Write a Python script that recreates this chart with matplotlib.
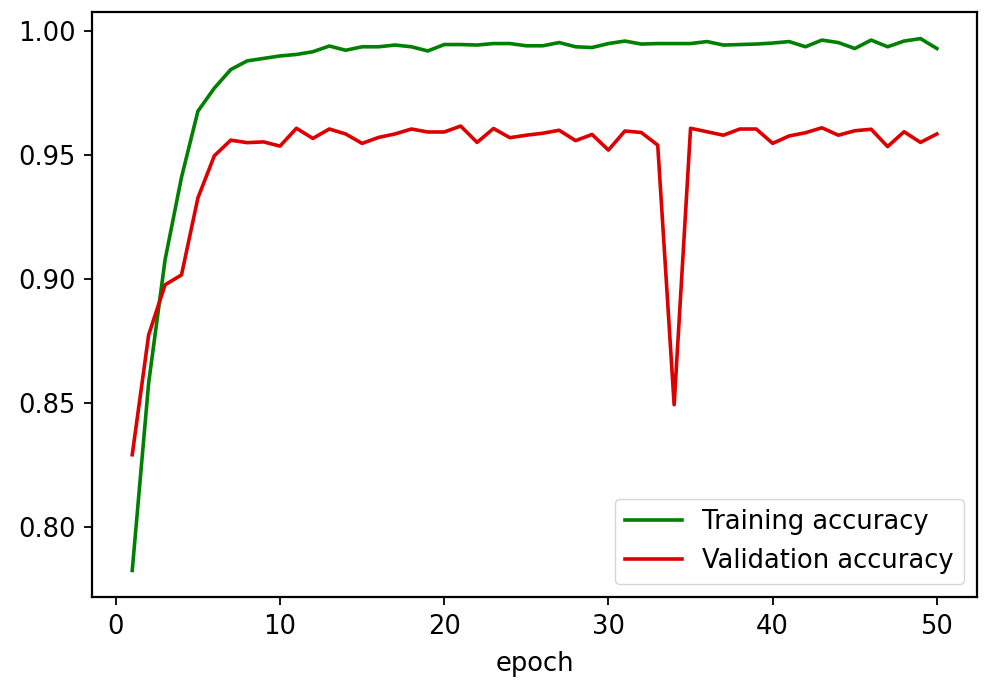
import matplotlib
matplotlib.use("Agg")
import matplotlib.pyplot as plt

epochs = list(range(1, 51))

train_acc = [0.7823, 0.858, 0.9077, 0.941, 0.9677, 0.977, 0.9845, 0.988, 0.989, 0.990,
             0.9906, 0.9917, 0.994, 0.9923, 0.9937, 0.9937, 0.9944, 0.9937, 0.992, 0.9946,
             0.9946, 0.9944, 0.995, 0.995, 0.9941, 0.9941, 0.9954, 0.9937, 0.9934, 0.995,
             0.996, 0.9948, 0.995, 0.995, 0.995, 0.9958, 0.9944, 0.9946, 0.9948, 0.9952,
             0.9958, 0.9937, 0.9964, 0.9954, 0.993, 0.9964, 0.9937, 0.996, 0.997, 0.993]

val_acc = [0.829, 0.8774, 0.8976, 0.9016, 0.9327, 0.9497, 0.956, 0.955, 0.9553, 0.9536,
           0.9608, 0.9567, 0.9605, 0.9585, 0.9547, 0.9571, 0.9585, 0.9605, 0.9593, 0.9593,
           0.9617, 0.9551, 0.9607, 0.957, 0.958, 0.9588, 0.960, 0.9558, 0.9583, 0.952,
           0.9597, 0.9591, 0.954, 0.8492, 0.9608, 0.9594, 0.958, 0.9605, 0.9605, 0.9547,
           0.9577, 0.959, 0.961, 0.958, 0.9598, 0.9604, 0.9534, 0.9594, 0.9551, 0.9585]

fig = plt.figure(figsize=(9.85, 6.86), dpi=100)
ax = fig.add_axes([0.0934, 0.1297, 0.8986, 0.8528])

ax.plot(epochs, train_acc, color="green", lw=2.6, label="Training accuracy")
ax.plot(epochs, val_acc, color="#dd0000", lw=2.6, label="Validation accuracy")

ax.set_yticks([0.80, 0.85, 0.90, 0.95, 1.00])
ax.set_xticks([0, 10, 20, 30, 40, 50])
ax.tick_params(labelsize=18.5, length=6, width=1.3, pad=6)
for sp in ax.spines.values():
    sp.set_linewidth(1.6)

ax.set_xlabel("epoch", fontsize=18.5, labelpad=8)
ax.legend(loc="lower right", fontsize=18.5, handlelength=2.2)

fig.savefig("out.png", dpi=100)
